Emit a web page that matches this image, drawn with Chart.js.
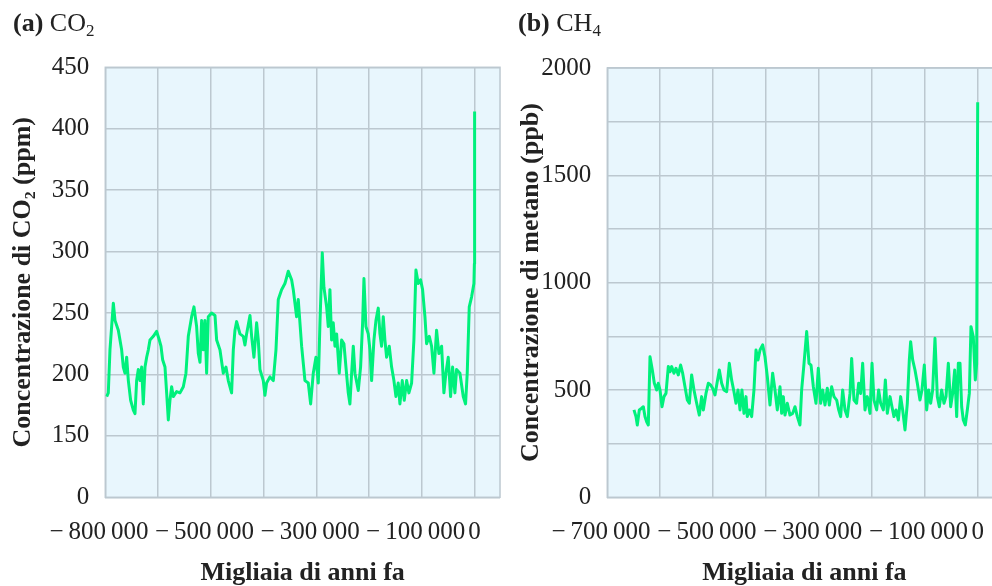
<!DOCTYPE html>
<html lang="it">
<head>
<meta charset="utf-8">
<title>CO2 e CH4 negli ultimi 800 000 anni</title>
<script src="https://cdn.jsdelivr.net/npm/chart.js@4.4.1/dist/chart.umd.min.js"></script>
<style>
  html, body { margin: 0; padding: 0; background: #fff; width: 992px; height: 586px; overflow: hidden; position: relative; }
  .panel { position: absolute; top: 0; height: 586px; }
  #panelA { left: 0; width: 508px; }
  #panelB { left: 508px; width: 502px; }
  .label { position: absolute; top: 10px; font-family: 'Liberation Serif', serif; font-size: 26px; line-height: 26px; color: #222; white-space: nowrap; }
  .label sub { font-size: 17px; vertical-align: -5px; line-height: 0; }
  #labelA { left: 13px; }
  #labelB { left: 518px; }
</style>
</head>
<body>
<div class="panel" id="panelA"><canvas id="co2Chart" width="508" height="586"></canvas></div>
<div class="panel" id="panelB"><canvas id="ch4Chart" width="502" height="586"></canvas></div>
<div class="label" id="labelA"><b>(a)</b> CO<sub>2</sub></div>
<div class="label" id="labelB"><b>(b)</b> CH<sub>4</sub></div>

<script>
// Dati: tempo in migliaia di anni (0 = oggi)
// ===========================================================

// (a) CO2, ppm
const co2Kyr = [
  -797, -793.5, -789.9, -782.6, -779, -771.8, -764.6, -761, -757.4, -753.7,
  -750.1, -745.1, -739.3, -735.7, -732.1, -728.5, -724.9, -721.3, -717.7, -714,
  -710.4, -706.8, -703.2, -696, -688.8, -683, -679.4, -675.8, -670.7, -667.1,
  -663.5, -659.9, -656.3, -652.7, -645.5, -638.2, -631, -625.3, -620.2, -613,
  -607.9, -602.2, -598.5, -594.9, -591.3, -587.7, -584.1, -580.5, -576.9, -569.7,
  -562.4, -558.8, -551.6, -544.4, -538.6, -533.6, -526.4, -522.7, -519.1, -515.5,
  -508.3, -501.1, -497.5, -493.9, -486.6, -483, -478, -472.2, -468.6, -465,
  -457.8, -454.2, -450.6, -443.3, -436.1, -430.3, -425.3, -418.1, -410.9, -403.6,
  -396.4, -392.8, -385.6, -382, -374.7, -367.5, -360.3, -355.2, -349.5, -343.7,
  -338.6, -335, -330, -326.4, -320.6, -317, -313.4, -309.8, -306.2, -302.5,
  -298.9, -293.2, -288.1, -283.1, -278.7, -273.7, -270.1, -266.4, -262.8, -259.2,
  -252, -247, -242.6, -239.7, -235.4, -230.4, -226.7, -223.1, -218.1, -213.7,
  -208.7, -205.1, -201.5, -197.9, -194.3, -190.6, -184.9, -179.8, -174.8, -170.4,
  -165.4, -161.8, -156.7, -152.4, -147.3, -142.3, -136.5, -131.5, -127.1, -122.1,
  -117, -112.7, -107.6, -104, -98.2, -93.2, -88.1, -82.4, -77.3, -71.5,
  -66.5, -62.2, -57.1, -52, -47.7, -42.7, -39.1, -31.8, -24.6, -19.6,
  -16, -11.6, -6.6, -1.5, -0.5, 0
];
const co2Ppm = [
  182, 185, 220, 258, 244, 236, 220, 206, 201, 214,
  195, 179, 171, 168, 195, 204, 195, 206, 176, 206,
  214, 220, 228, 231, 235, 228, 223, 212, 206, 185,
  163, 179, 190, 182, 186, 185, 190, 201, 231, 247,
  255, 239, 217, 210, 244, 220, 244, 201, 247, 250,
  248, 228, 220, 201, 206, 195, 185, 220, 236, 243,
  233, 231, 224, 233, 248, 231, 214, 242, 228, 204,
  195, 183, 193, 198, 195, 220, 261, 269, 274, 284,
  277, 269, 247, 261, 223, 195, 193, 176, 201, 214,
  193, 242, 299, 271, 255, 239, 269, 228, 242, 223,
  233, 201, 228, 225, 206, 185, 176, 201, 223, 201,
  187, 206, 242, 278, 239, 233, 220, 195, 228, 244,
  254, 233, 223, 247, 228, 214, 223, 206, 195, 182,
  193, 176, 195, 179, 195, 185, 193, 228, 285, 274,
  277, 269, 247, 225, 231, 223, 201, 236, 217, 223,
  185, 201, 214, 182, 206, 185, 204, 201, 182, 176,
  201, 255, 263, 274, 290, 414
];

// (b) CH4, ppb
const ch4Kyr = [
  -649.6, -645.8, -643.3, -639.5, -635.1, -631.9, -628.8, -625.6, -622.5, -619.3,
  -614.9, -611.1, -606.7, -603.6, -600.4, -596.6, -592.9, -589.1, -584.7, -581.5,
  -578.4, -574, -570.2, -565.8, -561.4, -557.6, -553.2, -548.8, -545, -540.6,
  -536.2, -531.1, -526.1, -521.7, -518.5, -513.5, -509.1, -504.7, -500.9, -496.5,
  -492.1, -488.3, -483.9, -479.5, -474.4, -469.4, -465, -460.6, -456.8, -453,
  -449.2, -445.5, -441.7, -437.9, -435.4, -431.6, -427.2, -422.8, -419, -415.2,
  -411.4, -406.4, -402, -397.6, -392.5, -387.5, -383.1, -378.7, -373.6, -370.5,
  -367.3, -364.2, -359.8, -354.8, -349.7, -345.3, -340.9, -335.9, -332.7, -328.2,
  -323.2, -318.8, -315, -310.6, -305.6, -301.2, -296.8, -293, -288.6, -284.2,
  -280.4, -276, -271.6, -266.5, -262.7, -259, -255.2, -250.8, -246.4, -241.3,
  -238.2, -233.8, -228.9, -225, -221.2, -217.4, -213, -208.6, -203.5, -199.7,
  -196, -190.9, -187.2, -183.4, -178.3, -174.5, -170.8, -165.7, -162, -158.2,
  -154.4, -150, -145.6, -141.8, -137.4, -133, -129.2, -126.7, -122.9, -118.5,
  -114.1, -109.1, -105.3, -100.9, -96.4, -92.7, -88.9, -85.1, -80.7, -76.3,
  -72.5, -68.1, -63.7, -59.9, -55.5, -51.1, -47.3, -43.5, -39.7, -36.6,
  -33.4, -30.3, -27.2, -23.4, -19.6, -15.8, -12.7, -8.3, -4.5, -2,
  0
];
const ch4Ppb = [
  407, 376, 337, 407, 415, 422, 376, 352, 337, 655,
  593, 531, 500, 531, 500, 422, 469, 484, 609, 585,
  609, 578, 601, 570, 616, 578, 515, 453, 438, 570,
  500, 438, 383, 469, 407, 484, 531, 523, 508, 477,
  539, 593, 531, 500, 492, 624, 546, 492, 438, 500,
  407, 500, 391, 469, 376, 407, 376, 500, 686, 640,
  686, 710, 655, 562, 430, 578, 500, 407, 515, 391,
  469, 383, 438, 383, 391, 422, 376, 337, 500, 624,
  772, 624, 616, 515, 438, 601, 438, 500, 430, 508,
  430, 515, 469, 453, 407, 376, 500, 407, 376, 484,
  647, 453, 438, 531, 484, 624, 407, 469, 391, 624,
  453, 407, 500, 438, 407, 547, 391, 469, 422, 376,
  407, 360, 469, 407, 314, 438, 640, 725, 640, 593,
  531, 453, 500, 616, 407, 500, 438, 500, 741, 469,
  422, 500, 438, 469, 624, 422, 484, 593, 376, 624,
  624, 422, 360, 337, 407, 484, 795, 748, 547, 620,
  1840
];

// Etichette degli assi (copiate come appaiono nel grafico)
const co2XTickLabels = ['\u2212\u2009800\u2009000\u2002', '', '\u2212\u2009500\u2009000\u2002', '', '\u2212\u2009300\u2009000\u2002', '', '\u2212\u2009100\u2009000\u2002', '0'];
const ch4XTickLabels = ['\u2212\u2009700\u2009000\u2002', '', '\u2212\u2009500\u2009000\u2002', '', '\u2212\u2009300\u2009000\u2002', '', '\u2212\u2009100\u2009000\u2002', '0'];
const co2YTickLabels = ['0', '150', '200', '250', '300', '350', '400', '450'];
const ch4YTickLabels = ['0', '', '500', '', '1000', '', '1500', '', '2000'];

// asse spezzato del CO2: lo "0" sta dove starebbe 100 ppm
const co2AxisFloor = 100;

// Stile
const FONT = "'Liberation Serif', serif";
const TEXT = '#222';
const BG = '#e8f6fd';
const GRID = '#bcc8d0';
const LINE = '#00f07c';

// sfondo azzurro + cornice dell'area del grafico
const framePlugin = {
    id: 'frame',
    beforeDraw(chart) {
        const { ctx, chartArea: a } = chart;
        ctx.save();
        ctx.fillStyle = BG;
        ctx.fillRect(a.left, a.top, a.right - a.left, a.bottom - a.top);
        ctx.restore();
    },
    beforeDatasetsDraw(chart) {
        const { ctx, chartArea: a } = chart;
        ctx.save();
        ctx.strokeStyle = GRID;
        ctx.lineWidth = 1.5;
        ctx.strokeRect(a.left, a.top, a.right - a.left, a.bottom - a.top);
        ctx.restore();
    }
};

/**
 * Crea un pannello (linea singola, assi fissi)
 */
function makePanel(canvas, cfg) {
    const points = cfg.xs.map((x, i) => ({ x: x, y: cfg.ys[i] }));

    return new Chart(canvas.getContext('2d'), {
        type: 'line',
        data: {
            datasets: [{
                data: points,
                borderColor: LINE,
                backgroundColor: LINE,
                borderWidth: 3,
                pointRadius: 0,
                fill: false,
                tension: 0,
                borderJoinStyle: 'round'
            }]
        },
        plugins: [framePlugin],
        options: {
            responsive: false,
            animation: false,
            events: [],
            layout: { padding: cfg.padding },
            plugins: {
                legend: { display: false },
                tooltip: { enabled: false }
            },
            scales: {
                x: {
                    type: 'linear',
                    min: cfg.xMin,
                    max: cfg.xMax,
                    afterBuildTicks: (scale) => {
                        const n = cfg.xLabels.length;
                        scale.ticks = cfg.xLabels.map((_, i) => ({ value: cfg.xMin + i * (0 - cfg.xMin) / (n - 1) }));
                    },
                    afterFit: (scale) => { scale.height = cfg.xHeight; },
                    ticks: {
                        autoSkip: false,
                        maxRotation: 0,
                        padding: 20,
                        color: TEXT,
                        font: { family: FONT, size: 25 },
                        callback: (value, index) => cfg.xLabels[index]
                    },
                    grid: { color: GRID, lineWidth: 1.5, drawTicks: false },
                    border: { display: false },
                    title: {
                        display: true,
                        text: 'Migliaia di anni fa',
                        color: TEXT,
                        font: { family: FONT, size: 26, weight: 'bold', lineHeight: 1 },
                        padding: 0
                    }
                },
                y: {
                    type: 'linear',
                    min: cfg.yMin,
                    max: cfg.yMax,
                    afterBuildTicks: (scale) => {
                        const n = cfg.yLabels.length;
                        scale.ticks = cfg.yLabels.map((_, i) => ({ value: cfg.yMin + i * (cfg.yMax - cfg.yMin) / (n - 1) }));
                    },
                    afterFit: (scale) => { scale.width = cfg.yWidth; },
                    ticks: {
                        padding: 16,
                        color: TEXT,
                        font: { family: FONT, size: 25 },
                        callback: (value, index) => cfg.yLabels[index]
                    },
                    grid: { color: GRID, lineWidth: 1.5, drawTicks: false },
                    border: { display: false },
                    title: {
                        display: true,
                        text: cfg.yTitle,
                        color: TEXT,
                        font: { family: FONT, size: 26, weight: 'bold', lineHeight: 1 },
                        padding: { top: 10, bottom: 0 }
                    }
                }
            }
        }
    });
}

makePanel(document.getElementById('co2Chart'), {
    xs: co2Kyr, ys: co2Ppm,
    xMin: -800, xMax: 55,
    yMin: co2AxisFloor, yMax: 450,
    xLabels: co2XTickLabels, yLabels: co2YTickLabels,
    yTitle: 'Concentrazione di CO\u2082 (ppm)',
    padding: { top: 67.3, right: 8, bottom: 0, left: 0 },
    yWidth: 105.3, xHeight: 88.7
});

makePanel(document.getElementById('ch4Chart'), {
    xs: ch4Kyr, ys: ch4Ppb,
    xMin: -700, xMax: 45,
    yMin: 0, yMax: 2000,
    xLabels: ch4XTickLabels, yLabels: ch4YTickLabels,
    yTitle: 'Concentrazione di metano (ppb)',
    padding: { top: 68, right: 8.5, bottom: 0, left: 0 },
    yWidth: 99.3, xHeight: 88.7
});
</script>
</body>
</html>
